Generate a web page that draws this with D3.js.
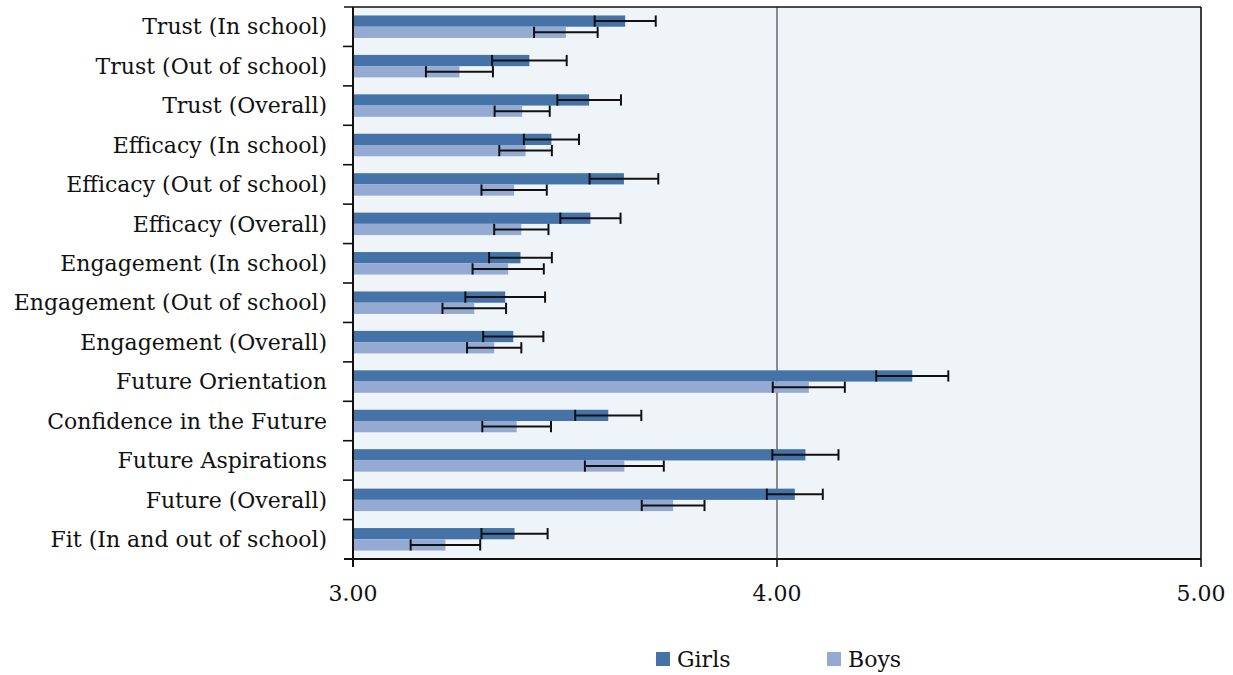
<!DOCTYPE html>
<html>
<head>
<meta charset="utf-8">
<script src="https://cdn.jsdelivr.net/npm/d3@7"></script>
<style>
  body { margin: 0; background: #fff; }
  text { font-family: "DejaVu Serif", serif; fill: #111; }
</style>
</head>
<body>
<svg id="chart"></svg>
<script>
// categories top to bottom
const categories = [
  "Trust (In school)", "Trust (Out of school)", "Trust (Overall)",
  "Efficacy (In school)", "Efficacy (Out of school)", "Efficacy (Overall)",
  "Engagement (In school)", "Engagement (Out of school)", "Engagement (Overall)",
  "Future Orientation", "Confidence in the Future", "Future Aspirations",
  "Future (Overall)", "Fit (In and out of school)"
];
const girls    = [3.642, 3.416, 3.557, 3.468, 3.639, 3.560, 3.395, 3.359, 3.378, 4.319, 3.602, 4.067, 4.042, 3.381];
const girlsErr = [0.072, 0.088, 0.075, 0.065, 0.081, 0.071, 0.074, 0.094, 0.071, 0.085, 0.078, 0.078, 0.066, 0.078];
const boys     = [3.502, 3.251, 3.399, 3.407, 3.380, 3.397, 3.366, 3.286, 3.333, 4.075, 3.386, 3.640, 3.755, 3.218];
const boysErr  = [0.075, 0.079, 0.065, 0.062, 0.077, 0.064, 0.084, 0.075, 0.064, 0.085, 0.081, 0.093, 0.074, 0.082];
const xTicks = [3, 4, 5];
const seriesNames = ["Girls", "Boys"];
const colors = ["#4573a8", "#94aad2"];

const W = 1233, H = 675;
const m = { left: 353, right: 32, top: 7, bottom: 116 };
const svg = d3.select("#chart").attr("width", W).attr("height", H);

const x = d3.scaleLinear().domain([3, 5]).range([m.left, W - m.right]);
const y = d3.scaleBand().domain(categories).range([m.top, H - m.bottom]).paddingInner(0).paddingOuter(0);
const inner = d3.scaleBand().domain(seriesNames).range([y.bandwidth() * 0.215, y.bandwidth() * 0.785]);

// plot background
svg.append("rect")
  .attr("x", x(3)).attr("y", m.top)
  .attr("width", x(5) - x(3)).attr("height", H - m.bottom - m.top)
  .attr("fill", "#eff4f9");

// reference line at 4.00
svg.append("line")
  .attr("x1", x(4)).attr("x2", x(4))
  .attr("y1", m.top).attr("y2", H - m.bottom)
  .attr("stroke", "#8c8c8c").attr("stroke-width", 2);

const rows = categories.map((c, i) => ({
  cat: c,
  vals: [
    { s: "Girls", v: girls[i], e: girlsErr[i] },
    { s: "Boys", v: boys[i], e: boysErr[i] }
  ]
}));

const g = svg.append("g")
  .selectAll("g")
  .data(rows)
  .enter().append("g")
  .attr("transform", d => `translate(0,${y(d.cat)})`);

g.selectAll("rect")
  .data(d => d.vals)
  .enter().append("rect")
  .attr("x", x(3))
  .attr("y", d => inner(d.s))
  .attr("width", d => x(d.v) - x(3))
  .attr("height", inner.bandwidth())
  .attr("fill", (d, i) => colors[i]);

// error bars
const eb = g.selectAll("g.err")
  .data(d => d.vals)
  .enter().append("g")
  .attr("class", "err")
  .attr("stroke", "#111")
  .attr("stroke-width", 2);

const cy = d => inner(d.s) + inner.bandwidth() / 2;
const cap = inner.bandwidth() / 2;
eb.append("line")
  .attr("x1", d => x(d.v - d.e)).attr("x2", d => x(d.v + d.e))
  .attr("y1", cy).attr("y2", cy);
eb.append("line")
  .attr("x1", d => x(d.v - d.e)).attr("x2", d => x(d.v - d.e))
  .attr("y1", d => cy(d) - cap).attr("y2", d => cy(d) + cap);
eb.append("line")
  .attr("x1", d => x(d.v + d.e)).attr("x2", d => x(d.v + d.e))
  .attr("y1", d => cy(d) - cap).attr("y2", d => cy(d) + cap);

// frame top and right
svg.append("line")
  .attr("x1", x(3) - 9).attr("x2", x(5))
  .attr("y1", m.top).attr("y2", m.top)
  .attr("stroke", "#111").attr("stroke-width", 1.6);
svg.append("line")
  .attr("x1", x(5)).attr("x2", x(5))
  .attr("y1", m.top).attr("y2", H - m.bottom)
  .attr("stroke", "#111").attr("stroke-width", 1.6);

// y axis
const yAxisG = svg.append("g");
yAxisG.append("line")
  .attr("x1", x(3)).attr("x2", x(3))
  .attr("y1", m.top).attr("y2", H - m.bottom + 8)
  .attr("stroke", "#111").attr("stroke-width", 2);
yAxisG.selectAll("line.tick")
  .data(categories.slice(1))
  .enter().append("line")
  .attr("class", "tick")
  .attr("x1", x(3) - 10).attr("x2", x(3))
  .attr("y1", d => y(d)).attr("y2", d => y(d))
  .attr("stroke", "#111").attr("stroke-width", 1.6);
yAxisG.selectAll("text")
  .data(categories)
  .enter().append("text")
  .attr("x", x(3) - 26)
  .attr("y", d => y(d) + y.bandwidth() / 2)
  .attr("dy", "0.35em")
  .attr("text-anchor", "end")
  .attr("font-size", 22)
  .text(d => d);

// x axis
const xAxisG = svg.append("g");
xAxisG.append("line")
  .attr("x1", x(3) - 9).attr("x2", x(5))
  .attr("y1", H - m.bottom).attr("y2", H - m.bottom)
  .attr("stroke", "#111").attr("stroke-width", 2);
xAxisG.selectAll("line.tick")
  .data(xTicks)
  .enter().append("line")
  .attr("class", "tick")
  .attr("x1", d => x(d)).attr("x2", d => x(d))
  .attr("y1", H - m.bottom).attr("y2", H - m.bottom + 8)
  .attr("stroke", "#111").attr("stroke-width", 1.6);
xAxisG.selectAll("text")
  .data(xTicks)
  .enter().append("text")
  .attr("x", d => x(d))
  .attr("y", 601)
  .attr("text-anchor", "middle")
  .attr("font-size", 22)
  .text(d => d3.format(".2f")(d));

// legend
const legendX = [656, 827];
const leg = svg.append("g")
  .selectAll("g")
  .data(seriesNames)
  .enter().append("g")
  .attr("transform", (d, i) => `translate(${legendX[i]},652)`);
leg.append("rect")
  .attr("width", 14).attr("height", 14)
  .attr("fill", (d, i) => colors[i]);
leg.append("text")
  .attr("x", 21).attr("y", 7)
  .attr("dy", "0.35em")
  .attr("font-size", 22)
  .text(d => d);
</script>
</body>
</html>
